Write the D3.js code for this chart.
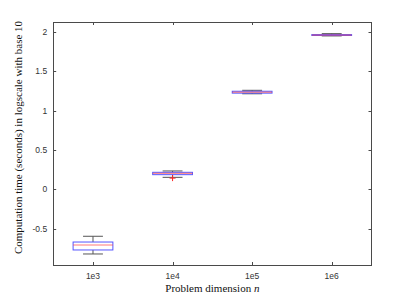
<!DOCTYPE html>
<html>
<head>
<meta charset="utf-8">
<script src="https://cdn.jsdelivr.net/npm/d3@7"></script>
<style>
  html, body { margin: 0; padding: 0; background: #fff; }
  svg { display: block; }
</style>
</head>
<body>
<svg id="chart" width="411" height="298"></svg>
<script>
// ---- data (log10 of computation time in seconds) ----
const categories = ["1e3", "1e4", "1e5", "1e6"];
const whiskerLow  = [-0.822, 0.152, 1.214, 1.949];
const q1          = [-0.771, 0.186, 1.222, 1.955];
const median      = [-0.708, 0.203, 1.234, 1.960];
const q3          = [-0.670, 0.216, 1.246, 1.966];
const whiskerHigh = [-0.597, 0.233, 1.258, 1.978];
const outliers    = [[], [0.142], [], []];
const yTicks = [-0.5, 0, 0.5, 1, 1.5, 2];
const yTickLabels = ["-0.5", "0", "0.5", "1", "1.5", "2"];
const yLabel = "Computation time (seconds) in logscale with base 10";
const xLabelText = "Problem dimension ";
const xLabelVar = "n";

(function () {
// ---- layout ----
const svg = d3.select("#chart");
const pLeft = 53.2, pRight = 371.5, pTop = 22, pBottom = 265;

const x = d3.scaleLinear().domain([0.5, categories.length + 0.5]).range([pLeft, pRight]);
const y = d3.scaleLinear().domain([-0.962, 2.126]).range([pBottom, pTop]);

const axisColor = "#4a4a4a";
const tickFont = "'Liberation Sans', Arial, Helvetica, sans-serif";
const serif = "'Liberation Serif', 'Times New Roman', serif";

const g = svg.append("g");

// axes box
g.append("rect")
  .attr("x", pLeft).attr("y", pTop)
  .attr("width", pRight - pLeft).attr("height", pBottom - pTop)
  .attr("fill", "none").attr("stroke", axisColor).attr("stroke-width", 1)
  .attr("shape-rendering", "crispEdges");

const tickLen = 3;
// y ticks (inside, both sides)
yTicks.forEach((t, i) => {
  const yy = Math.round(y(t)) + 0.5;
  g.append("line").attr("x1", pLeft).attr("x2", pLeft + tickLen).attr("y1", yy).attr("y2", yy)
    .attr("stroke", axisColor).attr("stroke-width", 1);
  g.append("line").attr("x1", pRight - tickLen).attr("x2", pRight).attr("y1", yy).attr("y2", yy)
    .attr("stroke", axisColor).attr("stroke-width", 1);
  g.append("text").attr("x", pLeft - 6).attr("y", y(t)).attr("dy", "0.35em")
    .attr("text-anchor", "end").attr("font-family", tickFont).attr("font-size", 8.5)
    .attr("fill", "#333").text(yTickLabels[i]);
});

// x ticks (inside, top & bottom)
categories.forEach((c, i) => {
  const xx = Math.round(x(i + 1)) + 0.5;
  g.append("line").attr("x1", xx).attr("x2", xx).attr("y1", pBottom - tickLen).attr("y2", pBottom)
    .attr("stroke", axisColor).attr("stroke-width", 1);
  g.append("line").attr("x1", xx).attr("x2", xx).attr("y1", pTop).attr("y2", pTop + tickLen)
    .attr("stroke", axisColor).attr("stroke-width", 1);
  g.append("text").attr("x", x(i + 1)).attr("y", 278.5)
    .attr("text-anchor", "middle").attr("font-family", tickFont).attr("font-size", 8.5)
    .attr("fill", "#333").text(c);
});

// boxplots
const boxHalf = 0.25, capHalf = 0.125;
const whiskColor = "#555";
const blue = "#5555ff", red = "#ff4040";
categories.forEach((c, i) => {
  const cx = x(i + 1);
  const bx = g.append("g");
  // whiskers
  bx.append("line").attr("x1", cx).attr("x2", cx).attr("y1", y(whiskerHigh[i])).attr("y2", y(q3[i]))
    .attr("stroke", whiskColor).attr("stroke-width", 1);
  bx.append("line").attr("x1", cx).attr("x2", cx).attr("y1", y(q1[i])).attr("y2", y(whiskerLow[i]))
    .attr("stroke", whiskColor).attr("stroke-width", 1);
  // caps
  [whiskerHigh[i], whiskerLow[i]].forEach(v => {
    bx.append("line").attr("x1", x(i + 1 - capHalf)).attr("x2", x(i + 1 + capHalf))
      .attr("y1", y(v)).attr("y2", y(v)).attr("stroke", whiskColor).attr("stroke-width", 1);
  });
  // box
  bx.append("rect").attr("x", x(i + 1 - boxHalf)).attr("width", x(i + 1 + boxHalf) - x(i + 1 - boxHalf))
    .attr("y", y(q3[i])).attr("height", Math.max(0.5, y(q1[i]) - y(q3[i])))
    .attr("fill", "none").attr("stroke", blue).attr("stroke-width", 1);
  // median
  bx.append("line").attr("x1", x(i + 1 - boxHalf)).attr("x2", x(i + 1 + boxHalf))
    .attr("y1", y(median[i])).attr("y2", y(median[i])).attr("stroke", red)
    .attr("stroke-opacity", 0.7).attr("stroke-width", 1);
  // outliers
  outliers[i].forEach(v => {
    const oy = y(v), s = 3;
    bx.append("line").attr("x1", cx - s).attr("x2", cx + s).attr("y1", oy).attr("y2", oy)
      .attr("stroke", "#ff2020").attr("stroke-width", 1);
    bx.append("line").attr("x1", cx).attr("x2", cx).attr("y1", oy - s).attr("y2", oy + s)
      .attr("stroke", "#ff2020").attr("stroke-width", 1);
  });
});

// axis labels
const xl = svg.append("text").attr("x", (pLeft + pRight) / 2).attr("y", 291.5)
  .attr("text-anchor", "middle").attr("font-family", serif).attr("font-size", 11).attr("fill", "#111");
xl.append("tspan").text(xLabelText);
xl.append("tspan").attr("font-style", "italic").text(xLabelVar);

svg.append("text")
  .attr("transform", `translate(22,${(pTop + pBottom) / 2 - 6}) rotate(-90)`)
  .attr("text-anchor", "middle").attr("font-family", serif).attr("font-size", 11).attr("fill", "#111")
  .text(yLabel);
})();
</script>
</body>
</html>
